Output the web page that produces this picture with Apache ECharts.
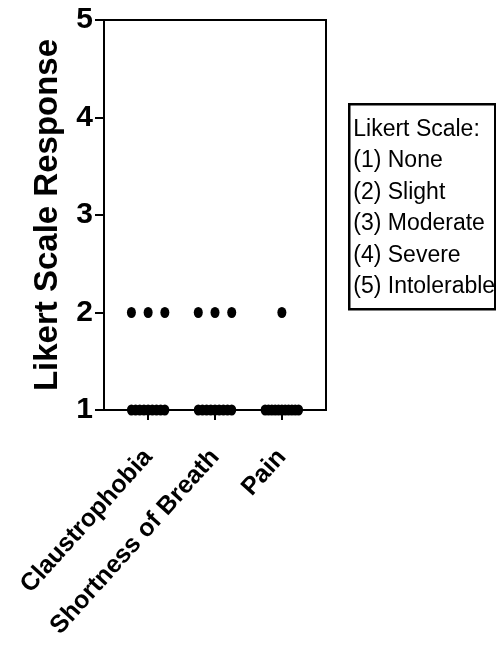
<!DOCTYPE html>
<html>
<head>
<meta charset="utf-8">
<script src="https://cdn.jsdelivr.net/npm/echarts@6/dist/echarts.min.js"></script>
<style>
html,body{margin:0;padding:0;background:#fff;}
#chart{width:496px;height:646px;}
</style>
</head>
<body>
<div id="chart"></div>
<script>
// ---- data ----
const categories = ['Claustrophobia', 'Shortness of Breath', 'Pain'];
const claustrophobia = [2, 2, 2, 1, 1, 1, 1, 1, 1, 1, 1, 1];
const shortnessOfBreath = [2, 2, 2, 1, 1, 1, 1, 1, 1, 1, 1, 1];
const pain = [2, 1, 1, 1, 1, 1, 1, 1, 1, 1, 1, 1];
const yTicks = [1, 2, 3, 4, 5];
const yAxisTitle = 'Likert Scale Response';
const legendTitle = 'Likert Scale:';
const legendItems = ['(1) None', '(2) Slight', '(3) Moderate', '(4) Severe', '(5) Intolerable'];

// ---- build beeswarm-style points (horizontal spread for equal values) ----
const FONT = "'Liberation Sans', Arial, sans-serif";
const step = 0.27, maxSpan = 0.5;
function spread(values, catIndex) {
  const groups = {};
  values.forEach(v => { (groups[v] = groups[v] || []).push(v); });
  const pts = [];
  Object.keys(groups).forEach(k => {
    const n = groups[k].length;
    const s = n > 1 ? Math.min(step, maxSpan / (n - 1)) : 0;
    for (let i = 0; i < n; i++) {
      pts.push([catIndex + 1 + (i - (n - 1) / 2) * s, Number(k)]);
    }
  });
  return pts;
}
const seriesValues = [claustrophobia, shortnessOfBreath, pain];

const chart = echarts.init(document.getElementById('chart'), null, {renderer: 'canvas'});
const option = {
  backgroundColor: '#fff',
  animation: false,
  grid: {
    left: 104, top: 20, right: 170, bottom: 236,
    show: true, borderColor: '#000', borderWidth: 2, backgroundColor: 'transparent'
  },
  xAxis: {
    type: 'value',
    min: 0.34, max: 3.66,
    axisLine: {show: true, lineStyle: {color: '#000', width: 2}},
    axisTick: {show: true, customValues: [1, 2, 3], length: 10, lineStyle: {color: '#000', width: 2}},
    axisLabel: {
      show: true, customValues: [1, 2, 3],
      formatter: v => categories[Math.round(v) - 1] || '',
      rotate: 48, margin: 43,
      color: '#000', fontFamily: FONT, fontWeight: 'bold', fontSize: 25
    },
    splitLine: {show: false}
  },
  yAxis: {
    type: 'value',
    min: yTicks[0], max: yTicks[yTicks.length - 1], interval: 1,
    name: yAxisTitle, nameLocation: 'middle', nameGap: 40,
    nameTextStyle: {color: '#000', fontFamily: FONT, fontWeight: 'bold', fontSize: 33},
    axisLine: {show: true, lineStyle: {color: '#000', width: 2}},
    axisTick: {show: true, length: 9, lineStyle: {color: '#000', width: 2}},
    axisLabel: {margin: 11, color: '#000', fontFamily: FONT, fontWeight: 'bold', fontSize: 30},
    splitLine: {show: false}
  },
  series: seriesValues.map((vals, i) => ({
    type: 'scatter',
    name: categories[i],
    data: spread(vals, i),
    symbol: 'circle',
    symbolSize: [9, 11],
    clip: false,
    z: 5,
    itemStyle: {color: '#000', opacity: 1}
  })),
  graphic: [{
    type: 'group',
    left: 348, top: 103,
    children: [
      {type: 'rect', shape: {x: 0, y: 0, width: 146, height: 205},
       style: {fill: '#fff', stroke: '#000', lineWidth: 2.5}},
      ...[legendTitle].concat(legendItems).map((t, i) => ({
        type: 'text', x: 4, y: 25 + i * 31.5,
        style: {text: t, fill: '#000', font: '23px ' + FONT, verticalAlign: 'middle', align: 'left'}
      }))
    ]
  }]
};
chart.setOption(option);
</script>
</body>
</html>
